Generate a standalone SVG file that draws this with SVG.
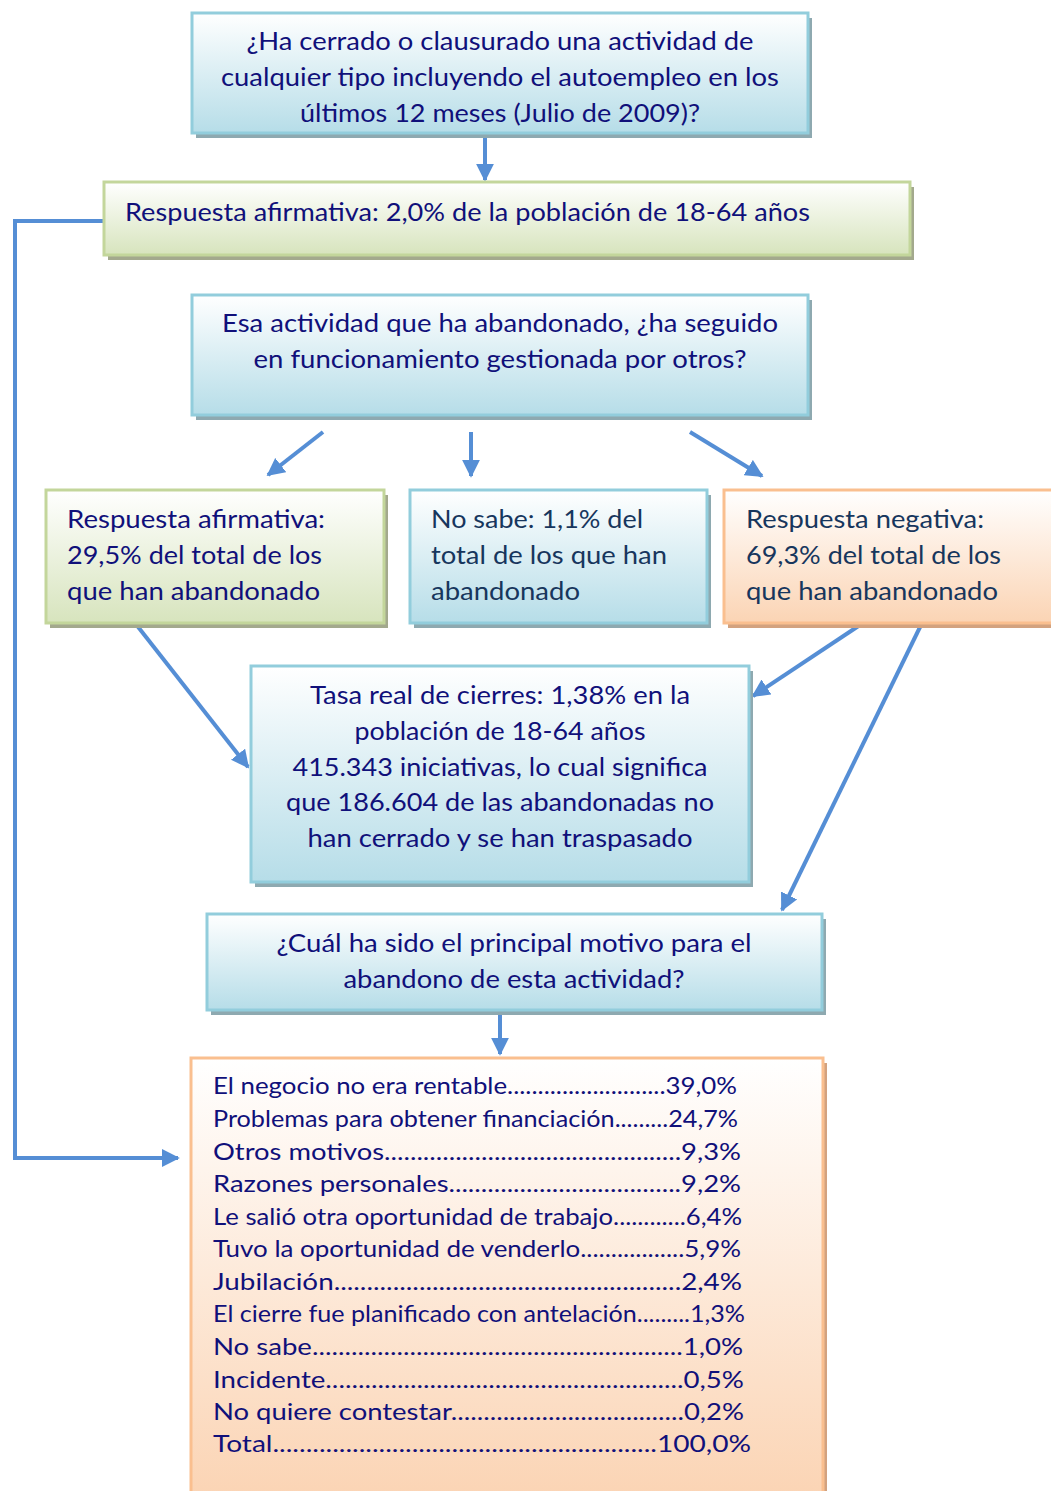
<svg xmlns="http://www.w3.org/2000/svg" width="1051" height="1491" viewBox="0 0 1051 1491">
<defs>
<linearGradient id="gBlue" x1="0" y1="0" x2="0" y2="1"><stop offset="0" stop-color="#ffffff"/><stop offset="1" stop-color="#b6dde8"/></linearGradient>
<linearGradient id="gGreen" x1="0" y1="0" x2="0" y2="1"><stop offset="0" stop-color="#ffffff"/><stop offset="1" stop-color="#d7e4bd"/></linearGradient>
<linearGradient id="gOrange" x1="0" y1="0" x2="0" y2="1"><stop offset="0" stop-color="#ffffff"/><stop offset="1" stop-color="#fbd4b4"/></linearGradient>
<marker id="ah" viewBox="0 0 10 10" refX="9" refY="5" markerWidth="4.5" markerHeight="4.5" orient="auto" markerUnits="strokeWidth"><path d="M0,0 L10,5 L0,10 z" fill="#558ed5"/></marker>
<style>
.t{font-family:Lato,"Open Sans","Liberation Sans",sans-serif;font-size:25px;fill:#10107a}
.s{fill:#17365d}
.l{font-family:Lato,"Open Sans","Liberation Sans",sans-serif;font-size:23px;fill:#10107a}
.bb{fill:url(#gBlue);stroke:#92cddc;stroke-width:3}
.bg{fill:url(#gGreen);stroke:#c3d69b;stroke-width:3}
.bo{fill:url(#gOrange);stroke:#fabf8f;stroke-width:3}
.shb{fill:#8ea9b0}
.shg{fill:#a3a98d}
.sho{fill:#d3a27f}
.c{fill:none;stroke:#558ed5;stroke-width:4;marker-end:url(#ah)}
</style>
</defs>

<g id="connectors">
<line class="c" x1="485" y1="135" x2="485" y2="180"/>
<polyline class="c" points="104,221 15,221 15,1158 178,1158"/>
<line class="c" x1="323" y1="432" x2="268" y2="475"/>
<line class="c" x1="471" y1="432" x2="471" y2="476"/>
<line class="c" x1="690" y1="432" x2="762" y2="476"/>
<line class="c" x1="135" y1="623" x2="248" y2="767"/>
<line class="c" x1="863" y1="623" x2="753" y2="696"/>
<line class="c" x1="922" y1="623" x2="782" y2="910"/>
<line class="c" x1="500" y1="1012" x2="500" y2="1054"/>
</g>

<g id="n1">
<rect class="shb" x="196" y="18" width="616" height="120"/>
<rect class="bb" x="192" y="13" width="616" height="120"/>
<text class="t" text-anchor="middle" lengthAdjust="spacingAndGlyphs"><tspan x="500" y="50" textLength="507" lengthAdjust="spacingAndGlyphs">¿Ha cerrado o clausurado una actividad de</tspan><tspan x="500" y="86" textLength="558" lengthAdjust="spacingAndGlyphs">cualquier tipo incluyendo el autoempleo en los</tspan><tspan x="500" y="122" textLength="400" lengthAdjust="spacingAndGlyphs">últimos 12 meses (Julio de 2009)?</tspan></text>
</g>

<g id="n2">
<rect class="shg" x="108" y="187" width="806" height="73"/>
<rect class="bg" x="104" y="182" width="806" height="73"/>
<text class="t" x="125" y="221" textLength="685" lengthAdjust="spacingAndGlyphs">Respuesta afirmativa: 2,0% de la población de 18-64 años</text>
</g>

<g id="n3">
<rect class="shb" x="196" y="300" width="616" height="120"/>
<rect class="bb" x="192" y="295" width="616" height="120"/>
<text class="t" text-anchor="middle"><tspan x="500" y="332" textLength="556" lengthAdjust="spacingAndGlyphs">Esa actividad que ha abandonado, ¿ha seguido</tspan><tspan x="500" y="368" textLength="493" lengthAdjust="spacingAndGlyphs">en funcionamiento gestionada por otros?</tspan></text>
</g>

<g id="n4">
<rect class="shg" x="50" y="495" width="338" height="133"/>
<rect class="bg" x="46" y="490" width="338" height="133"/>
<text class="t"><tspan x="67" y="528" textLength="258" lengthAdjust="spacingAndGlyphs">Respuesta afirmativa:</tspan><tspan x="67" y="564" textLength="255" lengthAdjust="spacingAndGlyphs">29,5% del total de los</tspan><tspan x="67" y="600" textLength="253" lengthAdjust="spacingAndGlyphs">que han abandonado</tspan></text>
</g>

<g id="n5">
<rect class="shb" x="414" y="495" width="297" height="133"/>
<rect class="bb" x="410" y="490" width="297" height="133"/>
<text class="t s"><tspan x="431" y="528" textLength="212" lengthAdjust="spacingAndGlyphs">No sabe: 1,1% del</tspan><tspan x="431" y="564" textLength="236" lengthAdjust="spacingAndGlyphs">total de los que han</tspan><tspan x="431" y="600" textLength="149" lengthAdjust="spacingAndGlyphs">abandonado</tspan></text>
</g>

<g id="n6">
<rect class="sho" x="728" y="495" width="330" height="133"/>
<rect class="bo" x="724" y="490" width="340" height="133"/>
<text class="t s"><tspan x="746" y="528" textLength="238" lengthAdjust="spacingAndGlyphs">Respuesta negativa:</tspan><tspan x="746" y="564" textLength="255" lengthAdjust="spacingAndGlyphs">69,3% del total de los</tspan><tspan x="746" y="600" textLength="252" lengthAdjust="spacingAndGlyphs">que han abandonado</tspan></text>
</g>

<g id="n7">
<rect class="shb" x="255" y="671" width="498" height="216"/>
<rect class="bb" x="251" y="666" width="498" height="216"/>
<text class="t" text-anchor="middle"><tspan x="500" y="704" textLength="380" lengthAdjust="spacingAndGlyphs">Tasa real de cierres: 1,38% en la</tspan><tspan x="500" y="740" textLength="291" lengthAdjust="spacingAndGlyphs">población de 18-64 años</tspan><tspan x="500" y="776" textLength="415" lengthAdjust="spacingAndGlyphs">415.343 iniciativas, lo cual significa</tspan><tspan x="500" y="811" textLength="428" lengthAdjust="spacingAndGlyphs">que 186.604 de las abandonadas no</tspan><tspan x="500" y="847" textLength="385" lengthAdjust="spacingAndGlyphs">han cerrado y se han traspasado</tspan></text>
</g>

<g id="n8">
<rect class="shb" x="211" y="919" width="615" height="96"/>
<rect class="bb" x="207" y="914" width="615" height="96"/>
<text class="t" text-anchor="middle"><tspan x="514" y="952" textLength="475" lengthAdjust="spacingAndGlyphs">¿Cuál ha sido el principal motivo para el</tspan><tspan x="514" y="988" textLength="341" lengthAdjust="spacingAndGlyphs">abandono de esta actividad?</tspan></text>
</g>

<g id="n9">
<rect class="sho" x="195" y="1063" width="632" height="440"/>
<rect class="bo" x="191" y="1058" width="632" height="440"/>
<text class="l"><tspan x="213" y="1094" textLength="524" lengthAdjust="spacingAndGlyphs">El negocio no era rentable..........................39,0%</tspan><tspan x="213" y="1127" textLength="525" lengthAdjust="spacingAndGlyphs">Problemas para obtener financiación.........24,7%</tspan><tspan x="213" y="1160" textLength="528" lengthAdjust="spacingAndGlyphs">Otros motivos..............................................9,3%</tspan><tspan x="213" y="1192" textLength="528" lengthAdjust="spacingAndGlyphs">Razones personales....................................9,2%</tspan><tspan x="213" y="1225" textLength="529" lengthAdjust="spacingAndGlyphs">Le salió otra oportunidad de trabajo............6,4%</tspan><tspan x="213" y="1257" textLength="528" lengthAdjust="spacingAndGlyphs">Tuvo la oportunidad de venderlo.................5,9%</tspan><tspan x="213" y="1290" textLength="529" lengthAdjust="spacingAndGlyphs">Jubilación.....................................................2,4%</tspan><tspan x="213" y="1322" textLength="532" lengthAdjust="spacingAndGlyphs">El cierre fue planificado con antelación.........1,3%</tspan><tspan x="213" y="1355" textLength="530" lengthAdjust="spacingAndGlyphs">No sabe.........................................................1,0%</tspan><tspan x="213" y="1388" textLength="531" lengthAdjust="spacingAndGlyphs">Incidente.......................................................0,5%</tspan><tspan x="213" y="1420" textLength="531" lengthAdjust="spacingAndGlyphs">No quiere contestar....................................0,2%</tspan><tspan x="213" y="1452" textLength="538" lengthAdjust="spacingAndGlyphs">Total..........................................................100,0%</tspan></text>
</g>
</svg>
